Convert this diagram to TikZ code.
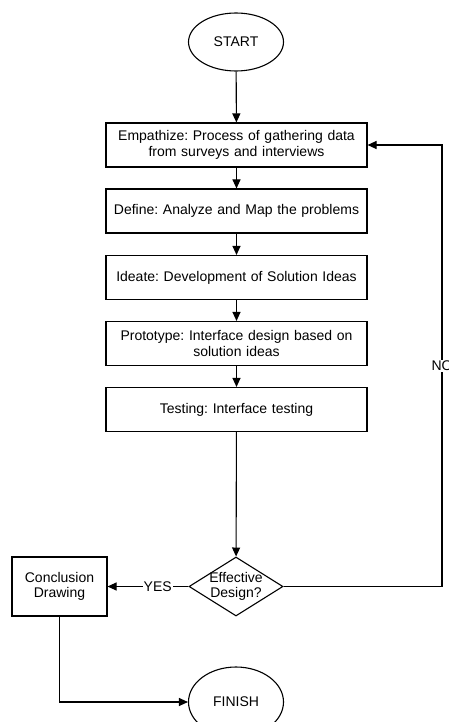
\documentclass[tikz,border=0pt]{standalone}
\usepackage{fontspec}
\setmainfont{Liberation Sans}
\usetikzlibrary{shapes.geometric,arrows.meta}
\frenchspacing

\begin{document}
\begin{tikzpicture} [x = 1pt, y = -1pt, line width = 1.1pt,
	every node/.style = {font = \fontsize{14}{15.5}\selectfont},
	stepbox/.style = {draw, rectangle, minimum width = 261pt, minimum height = 44pt, text width = 252pt, align = center, inner sep = 0pt},
	terminal/.style = {draw, ellipse, minimum width = 95pt, minimum height = 58pt, inner sep = 0pt},
	decision/.style = {draw, diamond, minimum width = 94pt, minimum height = 59pt, inner sep = 0pt},
	flow/.style = {-{Triangle[length = 9pt, width = 8pt]}}]
	\useasboundingbox (0,0) rectangle (449,722);
	% main column
	\node [terminal] (start) at (236,42) {START};
	\node [stepbox] (empathize) at (236.5,145) {Empathize: Process of gathering data\\from surveys and interviews};
	\node [stepbox] (define) at (236.5,211) {Define: Analyze and Map the problems};
	\node [stepbox] (ideate) at (236.5,277.5) {Ideate: Development of Solution Ideas};
	\node [stepbox] (prototype) at (236.5,343.5) {Prototype: Interface design based on\\solution ideas};
	\node [stepbox] (testing) at (236.5,409.5) {Testing: Interface testing};
	\node [decision, label = {[align = center]center:Effective\\Design?}] (effective) at (236,586.5) {};
	\node [draw, rectangle, minimum width = 95pt, minimum height = 59pt, align = center, inner sep = 0pt] (conclusion) at (59.5,586.5) {Conclusion\\Drawing};
	\node [terminal, minimum height = 70pt] (finish) at (236,702) {FINISH};
	\coordinate (loop) at (442,586.5);
	\draw [flow] (start) -- (empathize);
	\draw [flow] (empathize) -- (define);
	\draw [flow] (define) -- (ideate);
	\draw [flow] (ideate) -- (prototype);
	\draw [flow] (prototype) -- (testing);
	\draw [flow] (testing) -- (effective);
	\draw [flow] (effective.west) -- node [pos = 0.38, fill = white, inner sep = 1pt] (yes) {YES} (conclusion.east);
	% the NO label sits on the edge of the page
	\draw [flow] (effective.east) -- (loop) |- node [pos = 0.25, fill = white, inner sep = 1pt] (no) {NO} (empathize.east);
	\draw [flow] (conclusion.south) |- (finish.west);
\end{tikzpicture}
\end{document}
